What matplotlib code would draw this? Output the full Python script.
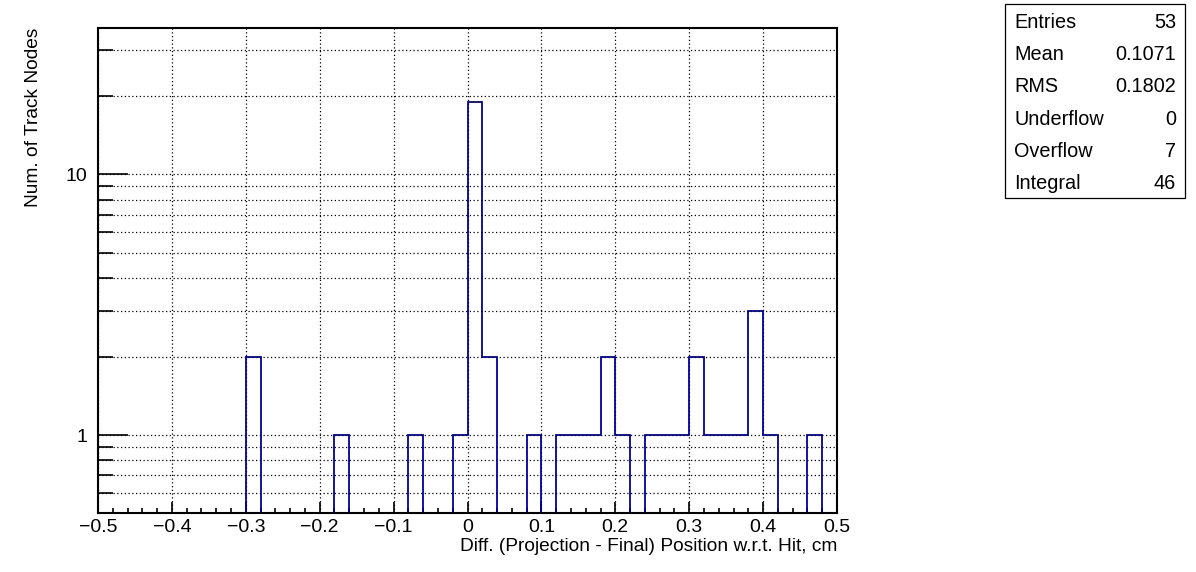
import numpy as np
import matplotlib
matplotlib.use("Agg")
import matplotlib.pyplot as plt
from matplotlib.ticker import LogLocator, NullFormatter, FixedLocator, FixedFormatter, MultipleLocator
from matplotlib.patches import Rectangle

# histogram: 50 bins of 0.02 cm from -0.5 to 0.5
x_min, x_max, n_bins = -0.5, 0.5, 50
counts = [0, 0, 0, 0, 0, 0, 0, 0, 0, 0,
          2, 0, 0, 0, 0, 0, 1, 0, 0, 0,
          0, 1, 0, 0, 1, 19, 2, 0, 0, 1,
          0, 1, 1, 1, 2, 1, 0, 1, 1, 1,
          2, 1, 1, 1, 3, 1, 0, 0, 1, 0]

stat_names = ["Entries", "Mean", "RMS", "Underflow", "Overflow", "Integral"]
stat_values = ["53", "0.1071", "0.1802", "0", "7", "46"]

x_title = "Diff. (Projection - Final) Position w.r.t. Hit, cm"
y_title = "Num. of Track Nodes"


def main():
    plt.rcParams['font.family'] = ['Liberation Sans', 'DejaVu Sans']
    W, H = 1196, 572
    fig = plt.figure(figsize=(W / 100, H / 100), dpi=100)
    ax = fig.add_axes([98 / W, (H - 513) / H, 739 / W, 485 / H])

    y_lo, y_hi = 0.502, 36.5
    edges = np.linspace(x_min, x_max, n_bins + 1)
    c = np.array(counts, dtype=float)
    shown = np.where(c > 0, c, y_lo)
    ax.stairs(shown, edges, baseline=None, color='#000099', lw=1.3, zorder=3)

    ax.set_yscale('log')
    ax.set_xlim(x_min, x_max)
    ax.set_ylim(y_lo, y_hi)

    ticks = np.round(np.arange(-0.5, 0.51, 0.1), 1)
    ax.set_xticks(ticks)
    ax.set_xticklabels(["0" if t == 0 else ("\u2212" + str(abs(t)) if t < 0 else str(t))
                        for t in ticks])
    ax.xaxis.set_minor_locator(MultipleLocator(0.02))

    ax.yaxis.set_major_locator(FixedLocator([1, 10]))
    ax.yaxis.set_major_formatter(FixedFormatter(["1", "10"]))
    ax.yaxis.set_minor_locator(LogLocator(base=10, subs=np.arange(2, 10), numticks=20))
    ax.yaxis.set_minor_formatter(NullFormatter())

    ax.tick_params(axis='both', which='both', direction='in', top=False, right=False,
                   labelsize=14, width=1.2, colors='black')
    ax.tick_params(axis='y', which='major', length=21.5, pad=8)
    ax.tick_params(axis='y', which='minor', length=10.8)
    ax.tick_params(axis='x', which='major', length=8, pad=4)
    ax.tick_params(axis='x', which='minor', length=3.6)

    grid_style = dict(color='black', linestyle=(0, (1, 2)), lw=0.9)
    ax.grid(True, axis='x', which='major', **grid_style)
    ax.grid(True, axis='y', which='both', **grid_style)
    ax.set_axisbelow(True)

    for s in ax.spines.values():
        s.set_linewidth(1.5)
        s.set_zorder(4)

    ax.set_xlabel(x_title, fontsize=13.8, loc='right', labelpad=2)
    ax.set_ylabel(y_title, fontsize=13.8, loc='top', labelpad=17)

    # stats box
    bx0, bx1, by0, by1 = 1005, 1185, 4, 198
    fig.patches.append(Rectangle((bx0 / W, 1 - by1 / H), (bx1 - bx0) / W, (by1 - by0) / H,
                                 transform=fig.transFigure, fill=False, ec='black', lw=0.9))
    row_h = (by1 - by0) / len(stat_names)
    for i, (name, val) in enumerate(zip(stat_names, stat_values)):
        yc = 1 - (by0 + row_h * (i + 0.5) + 2) / H
        fig.text(1014 / W, yc, name, fontsize=14.3, ha='left', va='center')
        fig.text(1176 / W, yc, val, fontsize=14.3, ha='right', va='center')

    fig.savefig("out.png", dpi=100)


if __name__ == "__main__":
    main()
